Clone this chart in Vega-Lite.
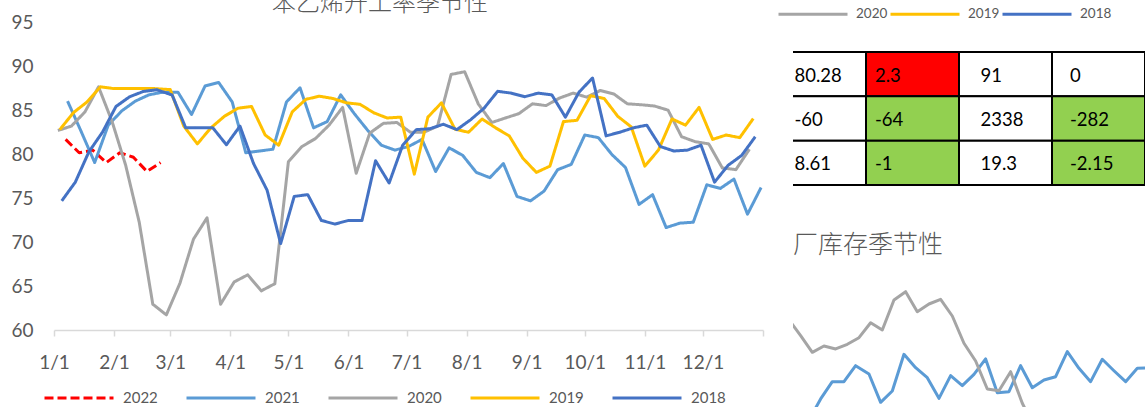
{
  "$schema": "https://vega.github.io/schema/vega-lite/v6.json",
  "autosize": {"type": "none"},
  "padding": {"left": 54, "top": 22, "right": 0, "bottom": 0},
  "params": [{"name": "width", "value": 1091}, {"name": "height", "value": 385}],
  "background": "white",
  "config": {"view": {"stroke": null}},
  "datasets": {
    "rate": [
      {"year":"2022","date":"2022-01-07","value":81.66},{"year":"2022","date":"2022-01-14","value":80.14},{"year":"2022","date":"2022-01-21","value":80.44},{"year":"2022","date":"2022-01-28","value":79.03},{"year":"2022","date":"2022-02-04","value":80.14},{"year":"2022","date":"2022-02-11","value":79.63},{"year":"2022","date":"2022-02-18","value":78.01},{"year":"2022","date":"2022-02-25","value":79.03},
      {"year":"2021","date":"2021-01-08","value":86.01},{"year":"2021","date":"2021-01-15","value":82.57},{"year":"2021","date":"2021-01-22","value":79.03},{"year":"2021","date":"2021-01-29","value":83.28},{"year":"2021","date":"2021-02-05","value":84.9},{"year":"2021","date":"2021-02-12","value":86.01},{"year":"2021","date":"2021-02-19","value":86.72},{"year":"2021","date":"2021-02-26","value":87.02},{"year":"2021","date":"2021-03-05","value":87.02},{"year":"2021","date":"2021-03-12","value":84.49},{"year":"2021","date":"2021-03-19","value":87.73},{"year":"2021","date":"2021-03-26","value":88.13},{"year":"2021","date":"2021-04-02","value":85.91},{"year":"2021","date":"2021-04-09","value":80.14},{"year":"2021","date":"2021-04-16","value":80.34},{"year":"2021","date":"2021-04-23","value":80.54},{"year":"2021","date":"2021-04-30","value":85.91},{"year":"2021","date":"2021-05-07","value":87.53},{"year":"2021","date":"2021-05-14","value":82.97},{"year":"2021","date":"2021-05-21","value":83.68},{"year":"2021","date":"2021-05-28","value":86.72},{"year":"2021","date":"2021-06-04","value":84.59},{"year":"2021","date":"2021-06-11","value":82.67},{"year":"2021","date":"2021-06-18","value":81.0},{"year":"2021","date":"2021-06-25","value":80.44},{"year":"2021","date":"2021-07-02","value":80.85},{"year":"2021","date":"2021-07-09","value":81.66},{"year":"2021","date":"2021-07-16","value":78.01},{"year":"2021","date":"2021-07-23","value":80.7},{"year":"2021","date":"2021-07-30","value":79.84},{"year":"2021","date":"2021-08-06","value":77.91},{"year":"2021","date":"2021-08-13","value":77.31},{"year":"2021","date":"2021-08-20","value":78.92},{"year":"2021","date":"2021-08-27","value":75.18},{"year":"2021","date":"2021-09-03","value":74.67},{"year":"2021","date":"2021-09-10","value":75.79},{"year":"2021","date":"2021-09-17","value":78.22},{"year":"2021","date":"2021-09-24","value":78.82},{"year":"2021","date":"2021-10-01","value":82.16},{"year":"2021","date":"2021-10-08","value":81.86},{"year":"2021","date":"2021-10-15","value":79.94},{"year":"2021","date":"2021-10-22","value":78.47},{"year":"2021","date":"2021-10-29","value":74.27},{"year":"2021","date":"2021-11-05","value":75.38},{"year":"2021","date":"2021-11-12","value":71.64},{"year":"2021","date":"2021-11-19","value":72.14},{"year":"2021","date":"2021-11-26","value":72.25},{"year":"2021","date":"2021-12-03","value":76.5},{"year":"2021","date":"2021-12-10","value":76.09},{"year":"2021","date":"2021-12-17","value":77.15},{"year":"2021","date":"2021-12-24","value":73.16},{"year":"2021","date":"2021-12-31","value":76.19},
      {"year":"2020","date":"2020-01-03","value":82.67},{"year":"2020","date":"2020-01-10","value":83.17},{"year":"2020","date":"2020-01-17","value":84.79},{"year":"2020","date":"2020-01-24","value":87.63},{"year":"2020","date":"2020-01-31","value":83.68},{"year":"2020","date":"2020-02-07","value":78.72},{"year":"2020","date":"2020-02-14","value":72.25},{"year":"2020","date":"2020-02-21","value":62.93},{"year":"2020","date":"2020-02-28","value":61.72},{"year":"2020","date":"2020-03-06","value":65.31},{"year":"2020","date":"2020-03-13","value":70.32},{"year":"2020","date":"2020-03-20","value":72.75},{"year":"2020","date":"2020-03-27","value":62.93},{"year":"2020","date":"2020-04-03","value":65.46},{"year":"2020","date":"2020-04-10","value":66.27},{"year":"2020","date":"2020-04-17","value":64.45},{"year":"2020","date":"2020-04-24","value":65.26},{"year":"2020","date":"2020-05-01","value":79.13},{"year":"2020","date":"2020-05-08","value":80.85},{"year":"2020","date":"2020-05-15","value":81.76},{"year":"2020","date":"2020-05-22","value":83.28},{"year":"2020","date":"2020-05-29","value":85.3},{"year":"2020","date":"2020-06-05","value":77.81},{"year":"2020","date":"2020-06-12","value":82.37},{"year":"2020","date":"2020-06-19","value":83.48},{"year":"2020","date":"2020-06-26","value":83.58},{"year":"2020","date":"2020-07-03","value":82.47},{"year":"2020","date":"2020-07-10","value":82.47},{"year":"2020","date":"2020-07-17","value":83.17},{"year":"2020","date":"2020-07-24","value":89.04},{"year":"2020","date":"2020-07-31","value":89.35},{"year":"2020","date":"2020-08-07","value":85.7},{"year":"2020","date":"2020-08-14","value":83.58},{"year":"2020","date":"2020-08-21","value":84.09},{"year":"2020","date":"2020-08-28","value":84.59},{"year":"2020","date":"2020-09-04","value":85.7},{"year":"2020","date":"2020-09-11","value":85.5},{"year":"2020","date":"2020-09-18","value":86.36},{"year":"2020","date":"2020-09-25","value":86.92},{"year":"2020","date":"2020-10-02","value":86.46},{"year":"2020","date":"2020-10-09","value":87.22},{"year":"2020","date":"2020-10-16","value":86.82},{"year":"2020","date":"2020-10-23","value":85.7},{"year":"2020","date":"2020-10-30","value":85.6},{"year":"2020","date":"2020-11-06","value":85.45},{"year":"2020","date":"2020-11-13","value":84.98},{"year":"2020","date":"2020-11-20","value":81.96},{"year":"2020","date":"2020-11-27","value":81.4},{"year":"2020","date":"2020-12-04","value":81.15},{"year":"2020","date":"2020-12-11","value":78.42},{"year":"2020","date":"2020-12-18","value":78.22},{"year":"2020","date":"2020-12-25","value":80.54},
      {"year":"2019","date":"2019-01-04","value":82.77},{"year":"2019","date":"2019-01-11","value":84.69},{"year":"2019","date":"2019-01-18","value":85.91},{"year":"2019","date":"2019-01-25","value":87.63},{"year":"2019","date":"2019-02-01","value":87.43},{"year":"2019","date":"2019-02-08","value":87.43},{"year":"2019","date":"2019-02-15","value":87.43},{"year":"2019","date":"2019-02-22","value":87.43},{"year":"2019","date":"2019-03-01","value":87.32},{"year":"2019","date":"2019-03-08","value":83.17},{"year":"2019","date":"2019-03-15","value":81.15},{"year":"2019","date":"2019-03-22","value":82.97},{"year":"2019","date":"2019-03-29","value":84.29},{"year":"2019","date":"2019-04-05","value":85.2},{"year":"2019","date":"2019-04-12","value":85.4},{"year":"2019","date":"2019-04-19","value":82.16},{"year":"2019","date":"2019-04-26","value":81.0},{"year":"2019","date":"2019-05-03","value":84.79},{"year":"2019","date":"2019-05-10","value":86.21},{"year":"2019","date":"2019-05-17","value":86.57},{"year":"2019","date":"2019-05-24","value":86.31},{"year":"2019","date":"2019-05-31","value":85.81},{"year":"2019","date":"2019-06-07","value":85.65},{"year":"2019","date":"2019-06-14","value":84.69},{"year":"2019","date":"2019-06-21","value":84.09},{"year":"2019","date":"2019-06-28","value":84.19},{"year":"2019","date":"2019-07-05","value":77.71},{"year":"2019","date":"2019-07-12","value":84.19},{"year":"2019","date":"2019-07-19","value":85.81},{"year":"2019","date":"2019-07-26","value":82.82},{"year":"2019","date":"2019-08-02","value":82.47},{"year":"2019","date":"2019-08-09","value":83.98},{"year":"2019","date":"2019-08-16","value":82.97},{"year":"2019","date":"2019-08-23","value":82.06},{"year":"2019","date":"2019-08-30","value":79.53},{"year":"2019","date":"2019-09-06","value":77.91},{"year":"2019","date":"2019-09-13","value":78.62},{"year":"2019","date":"2019-09-20","value":83.68},{"year":"2019","date":"2019-09-27","value":83.83},{"year":"2019","date":"2019-10-04","value":86.62},{"year":"2019","date":"2019-10-11","value":86.31},{"year":"2019","date":"2019-10-18","value":84.29},{"year":"2019","date":"2019-10-25","value":83.07},{"year":"2019","date":"2019-11-01","value":78.62},{"year":"2019","date":"2019-11-08","value":80.44},{"year":"2019","date":"2019-11-15","value":83.98},{"year":"2019","date":"2019-11-22","value":83.28},{"year":"2019","date":"2019-11-29","value":85.3},{"year":"2019","date":"2019-12-06","value":81.66},{"year":"2019","date":"2019-12-13","value":82.16},{"year":"2019","date":"2019-12-20","value":81.86},{"year":"2019","date":"2019-12-27","value":84.03},
      {"year":"2018","date":"2018-01-05","value":74.67},{"year":"2018","date":"2018-01-12","value":76.8},{"year":"2018","date":"2018-01-19","value":80.24},{"year":"2018","date":"2018-01-26","value":82.47},{"year":"2018","date":"2018-02-02","value":85.4},{"year":"2018","date":"2018-02-09","value":86.5},{"year":"2018","date":"2018-02-16","value":87.1},{"year":"2018","date":"2018-02-23","value":87.3},{"year":"2018","date":"2018-03-02","value":86.7},{"year":"2018","date":"2018-03-09","value":82.97},{"year":"2018","date":"2018-03-16","value":82.97},{"year":"2018","date":"2018-03-23","value":82.97},{"year":"2018","date":"2018-03-30","value":81.05},{"year":"2018","date":"2018-04-06","value":83.17},{"year":"2018","date":"2018-04-13","value":78.92},{"year":"2018","date":"2018-04-20","value":75.89},{"year":"2018","date":"2018-04-27","value":69.82},{"year":"2018","date":"2018-05-04","value":75.18},{"year":"2018","date":"2018-05-11","value":75.38},{"year":"2018","date":"2018-05-18","value":72.45},{"year":"2018","date":"2018-05-25","value":72.04},{"year":"2018","date":"2018-06-01","value":72.45},{"year":"2018","date":"2018-06-08","value":72.45},{"year":"2018","date":"2018-06-15","value":79.23},{"year":"2018","date":"2018-06-22","value":76.7},{"year":"2018","date":"2018-06-29","value":81.0},{"year":"2018","date":"2018-07-06","value":82.77},{"year":"2018","date":"2018-07-13","value":82.87},{"year":"2018","date":"2018-07-20","value":83.38},{"year":"2018","date":"2018-07-27","value":82.77},{"year":"2018","date":"2018-08-03","value":83.88},{"year":"2018","date":"2018-08-10","value":85.2},{"year":"2018","date":"2018-08-17","value":87.12},{"year":"2018","date":"2018-08-24","value":86.92},{"year":"2018","date":"2018-08-31","value":86.51},{"year":"2018","date":"2018-09-07","value":86.92},{"year":"2018","date":"2018-09-14","value":86.72},{"year":"2018","date":"2018-09-21","value":84.19},{"year":"2018","date":"2018-09-28","value":87.02},{"year":"2018","date":"2018-10-05","value":88.64},{"year":"2018","date":"2018-10-12","value":82.06},{"year":"2018","date":"2018-10-19","value":82.47},{"year":"2018","date":"2018-10-26","value":82.97},{"year":"2018","date":"2018-11-02","value":83.28},{"year":"2018","date":"2018-11-09","value":80.85},{"year":"2018","date":"2018-11-16","value":80.34},{"year":"2018","date":"2018-11-23","value":80.44},{"year":"2018","date":"2018-11-30","value":81.0},{"year":"2018","date":"2018-12-07","value":76.8},{"year":"2018","date":"2018-12-14","value":78.72},{"year":"2018","date":"2018-12-21","value":79.84},{"year":"2018","date":"2018-12-28","value":81.96}
    ],
    "table": [
      {"row":1,"col":1,"label":"80.28","status":"neutral"},{"row":1,"col":2,"label":"2.3","status":"up"},{"row":1,"col":3,"label":"91","status":"neutral"},{"row":1,"col":4,"label":"0","status":"neutral"},
      {"row":2,"col":1,"label":"-60","status":"neutral"},{"row":2,"col":2,"label":"-64","status":"down"},{"row":2,"col":3,"label":"2338","status":"neutral"},{"row":2,"col":4,"label":"-282","status":"down"},
      {"row":3,"col":1,"label":"8.61","status":"neutral"},{"row":3,"col":2,"label":"-1","status":"down"},{"row":3,"col":3,"label":"19.3","status":"neutral"},{"row":3,"col":4,"label":"-2.15","status":"down"}
    ],
    "inventory": [
      {"year":"2021","date":"2021-01-29","value":6.25},{"year":"2021","date":"2021-02-05","value":8.88},{"year":"2021","date":"2021-02-12","value":11.04},{"year":"2021","date":"2021-02-19","value":11.04},{"year":"2021","date":"2021-02-26","value":13.04},{"year":"2021","date":"2021-03-05","value":12.0},{"year":"2021","date":"2021-03-12","value":8.46},{"year":"2021","date":"2021-03-19","value":9.88},{"year":"2021","date":"2021-03-26","value":14.46},{"year":"2021","date":"2021-04-02","value":12.79},{"year":"2021","date":"2021-04-09","value":11.54},{"year":"2021","date":"2021-04-16","value":8.96},{"year":"2021","date":"2021-04-23","value":11.79},{"year":"2021","date":"2021-04-30","value":10.54},{"year":"2021","date":"2021-05-07","value":11.96},{"year":"2021","date":"2021-05-14","value":13.88},{"year":"2021","date":"2021-05-21","value":9.66},{"year":"2021","date":"2021-05-28","value":9.79},{"year":"2021","date":"2021-06-04","value":13.04},{"year":"2021","date":"2021-06-11","value":10.29},{"year":"2021","date":"2021-06-18","value":11.25},{"year":"2021","date":"2021-06-25","value":11.66},{"year":"2021","date":"2021-07-02","value":14.79},{"year":"2021","date":"2021-07-09","value":12.71},{"year":"2021","date":"2021-07-16","value":11.04},{"year":"2021","date":"2021-07-23","value":13.84},{"year":"2021","date":"2021-07-30","value":12.41},{"year":"2021","date":"2021-08-06","value":11.04},{"year":"2021","date":"2021-08-13","value":12.71},{"year":"2021","date":"2021-08-20","value":12.75},
      {"year":"2020","date":"2020-01-17","value":18.79},{"year":"2020","date":"2020-01-24","value":16.8},{"year":"2020","date":"2020-01-31","value":14.71},{"year":"2020","date":"2020-02-07","value":15.5},{"year":"2020","date":"2020-02-14","value":15.13},{"year":"2020","date":"2020-02-21","value":15.71},{"year":"2020","date":"2020-02-28","value":16.54},{"year":"2020","date":"2020-03-06","value":18.41},{"year":"2020","date":"2020-03-13","value":17.5},{"year":"2020","date":"2020-03-20","value":21.25},{"year":"2020","date":"2020-03-27","value":22.29},{"year":"2020","date":"2020-04-03","value":19.79},{"year":"2020","date":"2020-04-10","value":20.75},{"year":"2020","date":"2020-04-17","value":21.34},{"year":"2020","date":"2020-04-24","value":19.25},{"year":"2020","date":"2020-05-01","value":15.84},{"year":"2020","date":"2020-05-08","value":13.63},{"year":"2020","date":"2020-05-15","value":10.13},{"year":"2020","date":"2020-05-22","value":9.91},{"year":"2020","date":"2020-05-29","value":12.29},{"year":"2020","date":"2020-06-05","value":8.34},{"year":"2020","date":"2020-06-12","value":5.5}
    ]
  },
  "bounds": "flush",
  "spacing": 30,
  "resolve": {"scale": {"color": "independent", "x": "independent", "y": "independent", "strokeDash": "independent"}, "legend": {"color": "independent"}},
  "hconcat": [
    {
      "width": 709,
      "height": 308,
      "title": {"text": "苯乙烯开工率季节性", "font": "Noto Sans CJK SC", "fontSize": 24, "fontWeight": 300, "color": "#595959", "anchor": "start", "frame": "group", "dx": 218, "dy": 23, "offset": 1, "baseline": "alphabetic"},
      "data": {"name": "rate"},
      "mark": {"type": "line", "strokeWidth": 3, "strokeJoin": "round"},
      "encoding": {
        "x": {
          "field": "date", "timeUnit": "utcmonthdate", "type": "temporal",
          "scale": {"type": "utc", "domain": [{"year": 2012, "month": 1, "date": 1, "utc": true}, {"year": 2013, "month": 1, "date": 1, "utc": true}]},
          "axis": {
            "values": [
              {"year": 2012, "month": 1, "date": 1, "utc": true}, {"year": 2012, "month": 2, "date": 1, "utc": true}, {"year": 2012, "month": 3, "date": 1, "utc": true}, {"year": 2012, "month": 4, "date": 1, "utc": true}, {"year": 2012, "month": 5, "date": 1, "utc": true}, {"year": 2012, "month": 6, "date": 1, "utc": true}, {"year": 2012, "month": 7, "date": 1, "utc": true}, {"year": 2012, "month": 8, "date": 1, "utc": true}, {"year": 2012, "month": 9, "date": 1, "utc": true}, {"year": 2012, "month": 10, "date": 1, "utc": true}, {"year": 2012, "month": 11, "date": 1, "utc": true}, {"year": 2012, "month": 12, "date": 1, "utc": true}, {"year": 2013, "month": 1, "date": 1, "utc": true}
            ],
            "labelExpr": "utcyear(datum.value) > 2012 ? '' : utcFormat(datum.value, '%-m/%-d')",
            "title": null, "grid": false,
            "domainColor": "#d9d9d9", "domainWidth": 1.5,
            "tickColor": "#d9d9d9", "tickSize": 6, "tickWidth": 1.5,
            "labelFont": "Lato", "labelFontSize": 19, "labelColor": "#595959",
            "labelPadding": 17, "labelFlush": false, "labelOverlap": false
          }
        },
        "y": {
          "field": "value", "type": "quantitative",
          "scale": {"domain": [60, 95], "nice": false, "zero": false},
          "axis": {"values": [60, 65, 70, 75, 80, 85, 90, 95], "title": null, "grid": false, "domain": false, "ticks": false, "tickSize": 0, "labelFont": "Lato", "labelFontSize": 19, "labelColor": "#595959", "labelPadding": 21}
        },
        "color": {
          "field": "year", "type": "nominal",
          "scale": {"domain": ["2022", "2021", "2020", "2019", "2018"], "range": ["#ff0000", "#5b9bd5", "#a5a5a5", "#ffc000", "#4472c4"]},
          "legend": {"orient": "none", "legendX": -11, "legendY": 340, "direction": "horizontal", "columns": 5, "title": null, "symbolType": "stroke", "symbolSize": 4761, "symbolStrokeWidth": 3, "labelFont": "Lato", "labelFontSize": 15, "labelColor": "#595959", "labelOffset": 8, "columnPadding": 22, "padding": 0}
        },
        "strokeDash": {
          "field": "year", "type": "nominal",
          "scale": {"domain": ["2022", "2021", "2020", "2019", "2018"], "range": [[9, 4], [1, 0], [1, 0], [1, 0], [1, 0]]},
          "legend": {"orient": "none", "legendX": -11, "legendY": 340, "direction": "horizontal", "columns": 5, "title": null, "symbolType": "stroke", "symbolSize": 4761, "symbolStrokeWidth": 3, "labelFont": "Lato", "labelFontSize": 15, "labelColor": "#595959", "labelOffset": 8, "columnPadding": 22, "padding": 0}
        }
      }
    },
    {
      "bounds": "flush",
      "spacing": 83,
      "resolve": {"scale": {"x": "independent", "y": "independent", "color": "independent"}},
      "vconcat": [
        {
          "width": 352,
          "height": 165,
          "data": {"name": "table"},
          "encoding": {
            "x": {"field": "col", "type": "ordinal", "scale": {"range": [-20, 352], "paddingInner": 0, "paddingOuter": 0}, "axis": null},
            "y": {"field": "row", "type": "ordinal", "scale": {"range": [30, 163], "paddingInner": 0, "paddingOuter": 0}, "axis": null}
          },
          "layer": [
            {
              "mark": {"type": "rect", "stroke": "#000000", "strokeWidth": 2, "clip": true},
              "encoding": {"fill": {"field": "status", "type": "nominal", "scale": {"domain": ["neutral", "up", "down"], "range": ["#ffffff", "#ff0000", "#92d050"]}, "legend": null}}
            },
            {
              "transform": [{"filter": "datum.col == 1 || datum.col == 3"}],
              "mark": {"type": "text", "align": "left", "baseline": "middle", "dx": 21.5, "dy": 1.5, "font": "Lato", "fontSize": 18.5, "color": "#000000", "clip": true},
              "encoding": {"x": {"field": "col", "type": "ordinal", "bandPosition": 0}, "text": {"field": "label"}}
            },
            {
              "transform": [{"filter": "datum.col == 2"}],
              "mark": {"type": "text", "align": "left", "baseline": "middle", "dx": 9, "dy": 1.5, "font": "Lato", "fontSize": 18.5, "color": "#000000", "clip": true},
              "encoding": {"x": {"field": "col", "type": "ordinal", "bandPosition": 0}, "text": {"field": "label"}}
            },
            {
              "transform": [{"filter": "datum.col == 4"}],
              "mark": {"type": "text", "align": "left", "baseline": "middle", "dx": 18, "dy": 1.5, "font": "Lato", "fontSize": 18.5, "color": "#000000", "clip": true},
              "encoding": {"x": {"field": "col", "type": "ordinal", "bandPosition": 0}, "text": {"field": "label"}}
            }
          ]
        },
        {
          "width": 352,
          "height": 200,
          "title": {"text": "厂库存季节性", "font": "Noto Sans CJK SC", "fontSize": 25, "fontWeight": 300, "color": "#595959", "anchor": "start", "frame": "group", "dy": 316, "offset": 16, "baseline": "alphabetic"},
          "data": {"name": "inventory"},
          "mark": {"type": "line", "strokeWidth": 3, "strokeJoin": "round", "clip": true},
          "encoding": {
            "x": {"field": "date", "timeUnit": "utcmonthdate", "type": "temporal", "scale": {"type": "utc", "domain": [{"year": 2012, "month": 1, "date": 19, "hours": 10, "utc": true}, {"year": 2012, "month": 8, "date": 17, "hours": 15, "utc": true}]}, "axis": null},
            "y": {"field": "value", "type": "quantitative", "scale": {"domain": [0, 25], "nice": false, "zero": false}, "axis": null},
            "color": {
              "field": "year", "type": "nominal",
              "scale": {"domain": ["2022", "2021", "2020", "2019", "2018"], "range": ["#ff0000", "#5b9bd5", "#a5a5a5", "#ffc000", "#4472c4"]},
              "legend": {"values": ["2020", "2019", "2018"], "orient": "none", "legendX": -16, "legendY": -292, "direction": "horizontal", "columns": 3, "title": null, "symbolType": "stroke", "symbolSize": 4761, "symbolStrokeWidth": 3, "labelFont": "Lato", "labelFontSize": 13.5, "labelColor": "#595959", "labelOffset": 7, "columnPadding": -4, "padding": 0}
            }
          }
        }
      ]
    }
  ]
}
